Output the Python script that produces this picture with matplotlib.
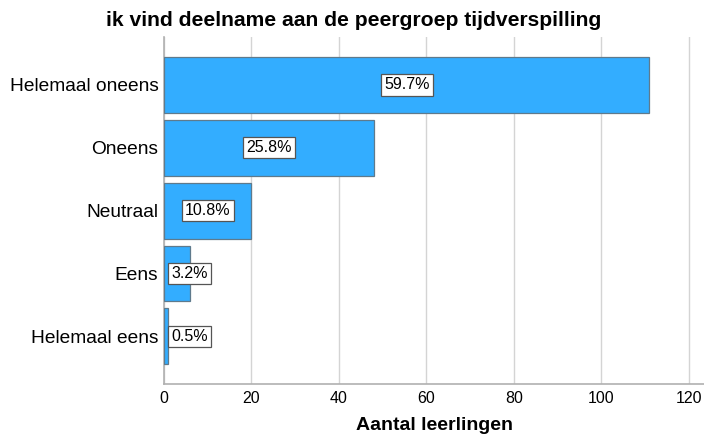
import matplotlib
matplotlib.use("Agg")
import matplotlib.pyplot as plt
import numpy as np

categories = ["Helemaal oneens", "Oneens", "Neutraal", "Eens", "Helemaal eens"]
counts = [111, 48, 20, 6, 1]
pct_labels = ["59.7%", "25.8%", "10.8%", "3.2%", "0.5%"]
xticks = [0, 20, 40, 60, 80, 100, 120]

plt.rcParams['font.family'] = ['Liberation Sans', 'DejaVu Sans']

fig = plt.figure(figsize=(7.04, 4.37), dpi=100)
ax = fig.add_axes([0.233, 0.121, 0.767, 0.794])

y = np.arange(len(categories))
ax.barh(y, counts, height=0.89, color="#33adff", edgecolor="#5f7a8c", linewidth=0.9, zorder=3)
for yi, v, lab in zip(y, counts, pct_labels):
    ax.text(max(v / 2, 5.8), yi, lab, ha="center", va="center", fontsize=11.5, zorder=4,
            bbox=dict(boxstyle="square,pad=0.2", fc="white", ec="#555555", lw=0.9))

ax.set_ylim(len(categories) - 0.24, -0.76)
ax.set_xlim(0, 123.5)
ax.set_yticks(y)
ax.set_yticklabels(categories, fontsize=13.8)
ax.set_xticks(xticks)
ax.tick_params(axis="x", labelsize=11.5, length=0, pad=5)
ax.tick_params(axis="y", length=0, pad=4)
ax.grid(axis="x", color="#d4d4d4", lw=1, zorder=0)
for s in ["top", "right"]:
    ax.spines[s].set_visible(False)
for s in ["left", "bottom"]:
    ax.spines[s].set_color("#b0b0b0")
    ax.spines[s].set_linewidth(1.2)

ax.set_xlabel("Aantal leerlingen", fontsize=14, fontweight="bold", labelpad=8)
fig.text(0.503, 0.952, "ik vind deelname aan de peergroep tijdverspilling",
         ha="center", va="center", fontsize=15.2, fontweight="bold")

fig.savefig("out.png", dpi=100)
